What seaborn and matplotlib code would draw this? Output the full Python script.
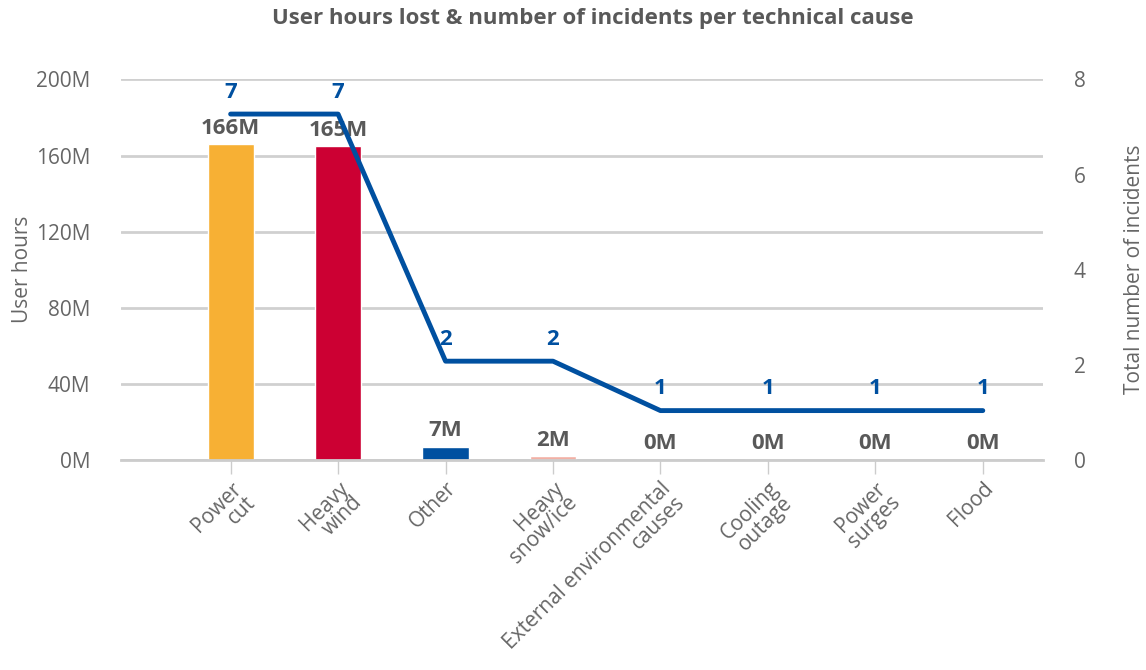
import numpy as np
import pandas as pd
import seaborn as sns
import matplotlib.pyplot as plt
from matplotlib.ticker import FuncFormatter

causes = ["Power\ncut", "Heavy\nwind", "Other", "Heavy\nsnow/ice",
          "External environmental\ncauses", "Cooling\noutage", "Power\nsurges", "Flood"]
user_hours_m = [166, 165, 7, 2, 0, 0, 0, 0]          # millions of user hours
incidents = [7, 7, 2, 2, 1, 1, 1, 1]
incident_ticks = [0, 2, 4, 6, 8]
bar_colors = ["#F7B034", "#CC0033", "#0050A0", "#F2B0A5",
              "#0050A0", "#0050A0", "#0050A0", "#0050A0"]
line_color = "#0050A0"
grey = "#595959"
light_grey = "#666666"

sns.set_theme(style="white")
plt.rcParams["font.family"] = ["Open Sans", "DejaVu Sans"]

df = pd.DataFrame({"cause": causes, "hours": user_hours_m, "incidents": incidents})

fig = plt.figure(figsize=(11.46, 6.70), dpi=100)
ax = fig.add_axes([0.1056, 0.3134, 0.8045, 0.5680])

sns.barplot(data=df, x="cause", y="hours", hue="cause", palette=bar_colors,
            legend=False, width=0.43, saturation=1, ax=ax, zorder=2)

ax.set_ylim(0, 200)
ax.set_xlim(-1.02, 7.56)
ax.set_yticks([0, 40, 80, 120, 160, 200])
ax.yaxis.set_major_formatter(FuncFormatter(lambda v, p: f"{v:.0f}M"))
ax.grid(axis="y", color="#d0d0d0", linewidth=2, zorder=0)
ax.set_axisbelow(True)
for s in ["left", "right", "top"]:
    ax.spines[s].set_visible(False)
ax.spines["bottom"].set_color("#cccccc")
ax.spines["bottom"].set_linewidth(2)
ax.tick_params(axis="y", length=0, labelsize=15, labelcolor=light_grey, pad=22)
ax.tick_params(axis="x", length=10, width=1, color="#cccccc", bottom=True,
               labelsize=15, labelcolor=light_grey, pad=3)
ax.set_xticks(range(len(causes)))
ax.set_xticklabels(causes, rotation=45, ha="right", rotation_mode="anchor",
                   multialignment="right", linespacing=0.92)
ax.set_xlabel("")
ax.set_ylabel("User hours", fontsize=15, color=light_grey, labelpad=2)

for i, v in enumerate(user_hours_m):
    ax.annotate(f"{v}M", (i, v), xytext=(0, 4), textcoords="offset points",
                ha="center", va="bottom", fontsize=16, fontweight="bold",
                color=grey, zorder=5)

# secondary axis: ticks aligned with the left gridlines like the original chart
ax2 = ax.twinx()
sns.lineplot(x=np.arange(len(causes)), y=incidents, ax=ax2, color=line_color,
             linewidth=3.5, solid_capstyle="round", zorder=4)
ax2.set_ylim(0, 7.7)
ax2.set_yticks(np.linspace(0, 7.7, len(incident_ticks)))
ax2.set_yticklabels([str(t) for t in incident_ticks])
for s in ["left", "right", "top", "bottom"]:
    ax2.spines[s].set_visible(False)
ax2.tick_params(axis="y", length=0, labelsize=15, labelcolor=light_grey, pad=22)
ax2.set_ylabel("Total number of incidents", fontsize=15, color=light_grey, labelpad=28)
for i, v in enumerate(incidents):
    ax2.annotate(str(v), (i, v), xytext=(0, 8), textcoords="offset points",
                 ha="center", va="bottom", fontsize=16, fontweight="bold",
                 color=line_color)

fig.suptitle("User hours lost & number of incidents per technical cause",
             x=0.517, y=0.988, fontsize=16, fontweight="bold", color=grey)

fig.savefig("out.png", dpi=100)
